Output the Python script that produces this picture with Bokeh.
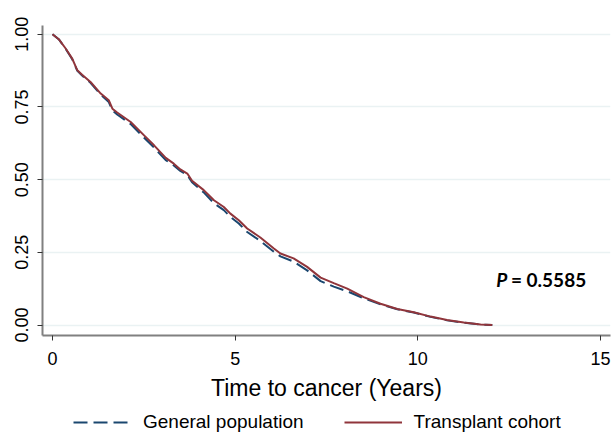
from bokeh.plotting import figure
from bokeh.models import Range1d, FixedTicker, Legend, LegendItem, Label
from bokeh.layouts import column
from bokeh.embed import file_html
from bokeh.resources import INLINE

# ---- data ----
time_general = [0, 0.17, 0.36, 0.54, 0.68, 0.81, 1.04, 1.32, 1.54, 1.64, 1.77, 2.14, 2.5, 2.78,
                3.1, 3.32, 3.5, 3.69, 3.82, 4.14, 4.42, 4.69, 4.87, 5.1, 5.33, 5.69, 6.06, 6.24,
                6.6, 6.97, 7.34, 7.7, 8.07, 8.52, 8.98, 9.44, 9.89, 10.35, 10.8, 11.26, 11.72, 12.04]
surv_general = [1.0, 0.983, 0.950, 0.914, 0.874, 0.858, 0.833, 0.792, 0.767, 0.738, 0.724, 0.691,
                0.645, 0.610, 0.567, 0.549, 0.530, 0.516, 0.491, 0.456, 0.419, 0.395, 0.372, 0.349,
                0.320, 0.289, 0.252, 0.236, 0.218, 0.188, 0.151, 0.132, 0.116, 0.092, 0.071, 0.054,
                0.043, 0.028, 0.016, 0.008, 0.002, 0.0]

time_transplant = [0, 0.17, 0.36, 0.54, 0.68, 0.81, 1.04, 1.32, 1.54, 1.64, 1.77, 2.14, 2.5, 2.78,
                   3.1, 3.32, 3.5, 3.69, 3.82, 4.14, 4.42, 4.69, 4.87, 5.1, 5.33, 5.69, 6.06, 6.24,
                   6.6, 6.97, 7.34, 7.7, 8.07, 8.52, 8.98, 9.44, 9.89, 10.35, 10.8, 11.26, 11.72, 12.04]
surv_transplant = [1.0, 0.983, 0.951, 0.916, 0.876, 0.861, 0.836, 0.796, 0.773, 0.744, 0.731, 0.698,
                   0.653, 0.618, 0.575, 0.555, 0.535, 0.521, 0.496, 0.464, 0.429, 0.406, 0.383, 0.360,
                   0.332, 0.301, 0.263, 0.246, 0.229, 0.200, 0.163, 0.144, 0.125, 0.096, 0.073, 0.055,
                   0.044, 0.029, 0.017, 0.009, 0.002, 0.0]

x_ticks = [0, 5, 10, 15]
y_ticks = [0, 0.25, 0.5, 0.75, 1.0]
y_tick_labels = ["0.00", "0.25", "0.50", "0.75", "1.00"]
series_names = ["General population", "Transplant cohort"]
p_value_text = "= 0.5585"

FONT = "Liberation Sans"
NAVY = "#1a476f"
MAROON = "#90353b"
DASH = "14 6"

p = figure(frame_width=568, frame_height=310, output_backend="svg", toolbar_location=None,
           x_range=Range1d(-0.274, 15.276), y_range=Range1d(-0.036, 1.030),
           min_border_left=42, min_border_right=1, min_border_top=25, min_border_bottom=76)
p.outline_line_color = None
p.background_fill_color = "white"
p.border_fill_color = "white"

p.line(time_general, surv_general, line_color=NAVY, line_width=2, line_dash=DASH)
p.line(time_transplant, surv_transplant, line_color=MAROON, line_width=2)

# axes
p.xaxis.ticker = FixedTicker(ticks=x_ticks)
p.yaxis.ticker = FixedTicker(ticks=y_ticks)
p.yaxis.major_label_overrides = {t: l for t, l in zip(y_ticks, y_tick_labels)}
p.yaxis.major_label_orientation = "vertical"
for ax in (p.xaxis[0], p.yaxis[0]):
    ax.axis_line_color = "#808080"
    ax.axis_line_width = 2
    ax.major_tick_line_color = "#333333"
    ax.major_tick_line_width = 1
    ax.major_tick_out = 5
    ax.major_tick_in = 0
    ax.minor_tick_line_color = None
    ax.major_label_text_font = FONT
    ax.major_label_text_font_size = "18px"
    ax.major_label_text_color = "black"
p.xaxis.major_label_standoff = 11
p.yaxis.major_label_standoff = 9
p.xaxis.axis_label = "Time to cancer (Years)"
p.xaxis.axis_label_text_font = FONT
p.xaxis.axis_label_text_font_size = "23px"
p.xaxis.axis_label_text_font_style = "normal"
p.xaxis.axis_label_text_color = "black"
p.xaxis.axis_label_standoff = 7

p.xgrid.grid_line_color = None
p.ygrid.ticker = FixedTicker(ticks=y_ticks)
p.ygrid.grid_line_color = "#eaf2f3"
p.ygrid.grid_line_width = 1.5

# P-value annotation
p.add_layout(Label(x=12.15, y=0.155, text="P", text_font="Lato", text_font_size="19px",
                   text_font_style="bold italic", text_color="black", text_baseline="alphabetic"))
p.add_layout(Label(x=12.55, y=0.155, text=p_value_text, text_font="Lato", text_font_size="19px",
                   text_font_style="bold", text_color="black", text_baseline="alphabetic"))

# legend strip below the chart (its sample lines lie outside its own visible range)
leg = figure(width=611, height=22, output_backend="svg", toolbar_location=None,
             x_range=Range1d(100, 101), y_range=Range1d(100, 101),
             x_axis_location=None, y_axis_location=None,
             min_border_left=0, min_border_right=0, min_border_top=0, min_border_bottom=0)
leg.outline_line_color = None
leg.xgrid.visible = False
leg.ygrid.visible = False
lg_gen = leg.line(time_general, surv_general, line_color=NAVY, line_width=2, line_dash=DASH)
lg_tr = leg.line(time_transplant, surv_transplant, line_color=MAROON, line_width=2)

legend = Legend(items=[LegendItem(label=series_names[0], renderers=[lg_gen]),
                       LegendItem(label=series_names[1], renderers=[lg_tr])],
                orientation="horizontal", location=(31, 0),
                label_text_font=FONT, label_text_font_size="19px", label_text_color="black",
                glyph_width=58, label_standoff=12, spacing=40, padding=0, margin=0,
                label_height=20, glyph_height=20,
                border_line_color=None, background_fill_alpha=0)
leg.add_layout(legend, "center")

open("out.html", "w").write(file_html(column(p, leg, spacing=0), INLINE))
